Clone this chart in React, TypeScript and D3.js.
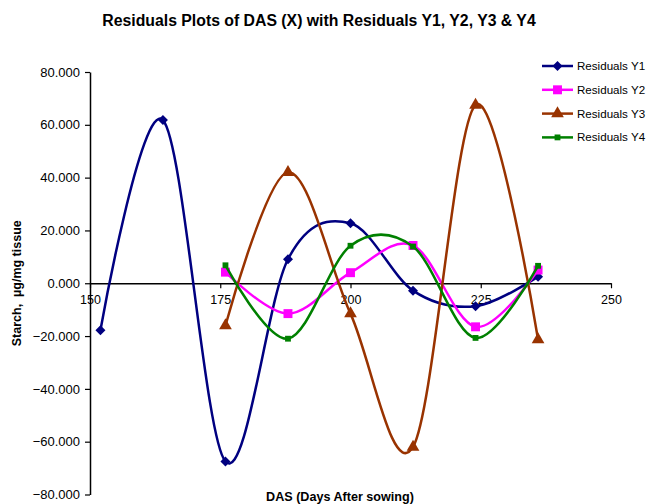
import { useEffect, useRef } from "react";
import * as d3 from "d3";

const days = [152, 164, 176, 188, 200, 212, 224, 236];
const residY1 = [-17.8, 61.8, -67.5, 9.1, 22.7, -2.8, -8.7, 2.5];
const residY2 = [null, null, 4.2, -11.5, 4.0, 14.3, -16.5, 5.0];
const residY3 = [null, null, -16.0, 42.0, -11.5, -62.0, 67.5, -21.3];
const residY4 = [null, null, 6.8, -21.0, 14.2, 13.9, -20.7, 6.6];
const xTicks = [150, 175, 200, 225, 250];
const yTicks = [80, 60, 40, 20, 0, -20, -40, -60, -80];

const seriesNames = ["Residuals Y1", "Residuals Y2", "Residuals Y3", "Residuals Y4"];
const seriesValues = [residY1, residY2, residY3, residY4];
const seriesColors = ["#000080", "#ff00ff", "#993300", "#008000"];

// square diamond (rotated square) like Excel's marker
const squareDiamond: d3.SymbolType = {
  draw(ctx, size) {
    const r = Math.sqrt(size) / Math.SQRT2;
    ctx.moveTo(0, -r);
    ctx.lineTo(r, 0);
    ctx.lineTo(0, r);
    ctx.lineTo(-r, 0);
    ctx.closePath();
  },
};
const seriesSymbols = [squareDiamond, d3.symbolSquare, d3.symbolTriangle, d3.symbolSquare];
const symbolSizes = [50, 80, 70, 34];

const W = 646;
const H = 504;
const FONT = "Liberation Sans, Arial, sans-serif";

export default function App() {
  const svgRef = useRef<SVGSVGElement>(null);

  useEffect(() => {
    if (!svgRef.current) return;
    const svg = d3.select(svgRef.current);
    svg.selectAll("*").remove();

    const x = d3.scaleLinear().domain([150, 250]).range([90, 611]);
    const y = d3.scaleLinear().domain([-80, 80]).range([494.5, 72]);

    // title
    svg.append("text")
      .attr("x", 319)
      .attr("y", 26)
      .attr("text-anchor", "middle")
      .attr("font-family", FONT)
      .attr("font-weight", "bold")
      .attr("font-size", 15.8)
      .text("Residuals Plots of DAS (X) with Residuals Y1, Y2, Y3 & Y4");

    // y axis
    const yAxis = svg.append("g")
      .attr("transform", `translate(${x(150)},0)`)
      .call(d3.axisLeft(y).tickValues(yTicks).tickSize(5).tickSizeOuter(0).tickFormat((d) => d3.format(".3f")(d as number)));
    yAxis.select(".domain").attr("stroke", "#000").attr("stroke-width", 1.5);
    yAxis.selectAll("line").attr("stroke", "#000").attr("stroke-width", 1.2);
    yAxis.selectAll("text")
      .attr("font-family", FONT)
      .attr("font-size", 13)
      .attr("fill", "#000")
      .attr("x", -10);

    // x axis at zero
    const xAxis = svg.append("g")
      .attr("transform", `translate(0,${y(0)})`)
      .call(d3.axisBottom(x).tickValues(xTicks).tickSize(5).tickSizeOuter(0).tickFormat((d) => String(d)));
    xAxis.select(".domain").attr("stroke", "#000").attr("stroke-width", 1.5);
    xAxis.selectAll("line").attr("stroke", "#000").attr("stroke-width", 1.2);
    xAxis.selectAll("text")
      .attr("font-family", FONT)
      .attr("font-size", 12.5)
      .attr("fill", "#000")
      .attr("y", 12);

    // axis titles
    svg.append("text")
      .attr("transform", `translate(21,${y(0)}) rotate(-90)`)
      .attr("text-anchor", "middle")
      .attr("font-family", FONT)
      .attr("font-weight", "bold")
      .attr("font-size", 12.5)
      .text("Starch,\u00a0 µg/mg tissue");

    svg.append("text")
      .attr("x", 340)
      .attr("y", 501)
      .attr("text-anchor", "middle")
      .attr("font-family", FONT)
      .attr("font-weight", "bold")
      .attr("font-size", 12.6)
      .text("DAS (Days After sowing)");

    const line = d3.line<[number, number]>()
      .x((d) => x(d[0]))
      .y((d) => y(d[1]))
      .curve(d3.curveCardinal.tension(0));

    seriesValues.forEach((vals, i) => {
      const pts: [number, number][] = [];
      vals.forEach((v, j) => {
        if (v !== null) pts.push([days[j], v as number]);
      });
      svg.append("path")
        .datum(pts)
        .attr("fill", "none")
        .attr("stroke", seriesColors[i])
        .attr("stroke-width", 2.5)
        .attr("d", line);
      const sym = d3.symbol().type(seriesSymbols[i]).size(symbolSizes[i]);
      svg.append("g")
        .selectAll("path")
        .data(pts)
        .join("path")
        .attr("transform", (d) => `translate(${x(d[0])},${y(d[1])})`)
        .attr("d", sym)
        .attr("fill", seriesColors[i]);
    });

    // legend
    const legend = svg.append("g");
    seriesNames.forEach((name, i) => {
      const ly = 66 + i * 23.8;
      legend.append("line")
        .attr("x1", 542).attr("x2", 573)
        .attr("y1", ly).attr("y2", ly)
        .attr("stroke", seriesColors[i])
        .attr("stroke-width", 2.5);
      legend.append("path")
        .attr("transform", `translate(557.5,${ly})`)
        .attr("d", d3.symbol().type(seriesSymbols[i]).size(symbolSizes[i])())
        .attr("fill", seriesColors[i]);
      legend.append("text")
        .attr("x", 577)
        .attr("y", ly + 4)
        .attr("font-family", FONT)
        .attr("font-size", 11.6)
        .text(name);
    });
  }, []);

  return (
    <svg
      ref={svgRef}
      width={W}
      height={H}
      style={{ position: "absolute", left: 0, top: 0, background: "#fff" }}
    />
  );
}
